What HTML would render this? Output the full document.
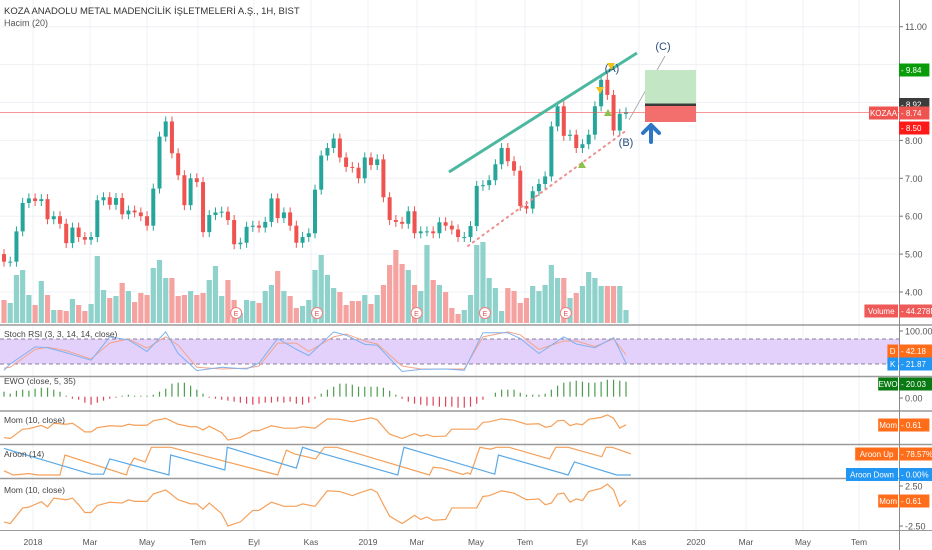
<!DOCTYPE html>
<html><head><meta charset="utf-8"><style>
html,body{margin:0;padding:0;background:#fff;}
svg{display:block;font-family:"Liberation Sans","DejaVu Sans",sans-serif;}
</style></head><body>
<svg id="chart" width="932" height="550" viewBox="0 0 932 550" xmlns="http://www.w3.org/2000/svg">
<rect x="0" y="0" width="932" height="550" fill="#ffffff"/>
<g id="grid"></g>
<g id="panes"></g>
<g id="vol"></g>
<g id="candles"></g>
<g id="draw"></g>
<g id="ind"></g>
<g id="axis"></g>
<text x="4" y="14" font-size="9.5" fill="#333">KOZA ANADOLU METAL MADENCİLİK İŞLETMELERİ A.Ş., 1H, BIST</text>
<text x="4" y="26" font-size="9" fill="#555">Hacim (20)</text>
</svg>
<script>
const closes=[4.8,4.8,5.6,6.35,6.47,6.4,6.45,5.92,6.0,5.8,5.29,5.7,5.45,5.38,5.45,6.42,6.5,6.3,6.48,6.05,6.15,6.1,6.0,5.75,6.73,8.1,8.5,7.66,7.08,6.29,7.0,6.9,5.58,6.03,6.1,6.12,5.9,5.26,5.3,5.72,5.75,5.7,5.85,6.47,5.95,6.1,5.75,5.3,5.45,5.55,6.7,7.6,7.8,8.05,7.55,7.3,7.28,7.0,7.55,7.35,7.5,6.5,5.9,5.85,5.8,6.13,5.55,5.6,5.6,5.55,5.84,5.75,5.65,5.45,5.45,5.74,6.8,6.82,6.95,7.37,7.8,7.45,7.2,6.27,6.2,6.66,6.85,7.05,8.37,8.9,8.12,8.15,7.8,7.9,8.15,8.9,9.6,9.2,8.26,8.7,8.74];
const firstOpen=5.0;
const volumes=[23,20,48,53,28,18,42,28,13,13,12,24,18,12,19,67,33,25,27,40,32,21,30,28,55,63,45,45,27,28,32,28,30,43,57,27,43,23,10,23,22,20,32,38,52,32,27,15,17,23,53,68,48,35,31,18,22,22,28,19,28,38,58,73,59,53,38,32,78,43,38,31,15,9,13,28,78,81,45,35,12,35,32,20,25,37,32,38,58,45,45,25,30,37,51,45,37,37,37,37,13];
const ewo=[5,3,6,7,6,8,9,9,7,5,1,-2,-3,-6,-8,-6,-4,-2,-1,1,2,1,1,1,2,5,8,13,14,14,11,7,3,-1,-2,-3,-4,-5,-6,-7,-8,-7,-6,-6,-5,-6,-5,-7,-8,-6,-2,3,7,10,13,13,12,10,10,10,10,9,6,2,-2,-5,-7,-8,-9,-9,-10,-10,-10,-11,-11,-10,-7,-3,0,4,7,7,7,4,2,2,2,3,7,11,14,15,16,15,14,14,15,17,17,16,15];
const stochIdx=[0,1,5,7,10,14,17,20,23,26,28,31,35,39,41,44,47,49,53,55,58,60,64,67,71,74,77,81,83,86,90,92,95,98,100];
const stochK=[5,20,61,59,47,29,85,78,50,97,45,4,12,8,22,81,55,40,97,89,67,65,2,7,8,5,95,95,81,45,85,68,59,83,22];
const stochD=[10,12,55,60,52,32,70,80,58,85,65,12,8,10,15,70,70,50,85,92,75,68,15,8,8,8,85,97,90,55,75,75,62,80,42];
const momIdx=[0,1,3,4,6,7,8,10,11,12,13,14,15,17,19,20,21,23,24,26,28,30,31,32,33,35,36,38,40,41,43,45,47,48,50,52,54,56,57,59,60,61,62,64,66,67,68,69,71,72,73,76,77,78,80,82,84,86,87,88,89,90,91,92,93,94,96,97,98,99,100];
const momVals=[-2.0,-2.2,-0.3,-0.2,0.46,-0.15,0.9,0.7,0.9,0.1,-0.85,-0.85,0,0.4,0.3,0.7,0.5,0.5,1.4,1.9,0.7,0.2,0.2,-0.45,0.3,-1.0,-2.5,-2.0,-0.6,-0.6,0.4,-0.1,-0.1,0.2,-0.1,1.8,1.7,1.2,1.5,2.0,1.6,0.1,-1.3,-2.2,-1.2,-1.7,-1.4,-1.8,-1.7,-0.3,-0.3,-0.3,1.1,1.2,1.8,1.5,0.7,0.8,0.1,0.3,1.4,1.5,0.4,0.8,0.6,1.7,2.1,2.6,1.9,-0.1,0.61];
const aroonUpIdx=[0,1.5,4,5.5,9,9.8,19.7,20,20.9,22.7,23.7,26.8,44,45.4,46.7,50.1,51.5,53.5,68.4,69,70.4,73.8,74.5,75,76.5,78.2,79.2,81.2,87.7,88.7,90.7,96.1,96.8,97.8,100.8];
const aroonUp=[15,0,5,0,0,72,0,25,61,47,100,100,0,90,76,58,100,100,0,28,25,2,8,3,100,93,100,100,58,100,100,66,100,100,76];
const aroonDnIdx=[0,14,16,17,26.5,26.8,35.5,35.9,47,48,50.8,63.3,64.3,78.9,79.5,90.7,91.7,98.5,100.8];
const aroonDn=[96,3,3,58,0,72,18,100,25,100,80,0,100,3,72,0,47,0,0];
const priceTicks=[11,8,7,6,5,4];
const dateLabels=["2018","Mar","May","Tem","Eyl","Kas","2019","Mar","May","Tem","Eyl","Kas","2020","Mar","May","Tem"];
const dateX=[33,90,147,198,254,311,368,417,476,525,582,639,696,746,803,859];
const earnIdx=[37,50,66,77,90];

const NS="http://www.w3.org/2000/svg";
function mk(tag,attrs,parent,text){const e=document.createElementNS(NS,tag);for(const k in attrs)e.setAttribute(k,attrs[k]);if(text!==undefined)e.textContent=text;parent.appendChild(e);return e;}
const xS=i=>4+6.22*i;
const yP=p=>26.7+(11-p)*37.9;
const yV=v=>323-v;
const yEwo=v=>396.7-v;
const yStoch=v=>372.3-v*0.4167;
const yMom1=v=>427.7-v*4.92;
const yMom2=v=>505.5-v*8.2;
const yAroon=v=>475-v*0.277;
const G=document.getElementById('grid'),P=document.getElementById('panes'),V=document.getElementById('vol'),C=document.getElementById('candles'),D=document.getElementById('draw'),I=document.getElementById('ind'),A=document.getElementById('axis');

dateX.forEach(x=>{const l=mk('line',{x1:x,y1:0,x2:x,y2:530,stroke:'#eef0f5','stroke-width':1},G);

});
[11,10,9,8,7,6,5,4].forEach(p=>{const l=mk('line',{x1:0,y1:yP(p),x2:899,y2:yP(p),stroke:'#eef0f5','stroke-width':1},G);

});
[325,376.5,411,444.5,478.5].forEach(y=>{const l=mk('line',{x1:0,y1:y,x2:932,y2:y,stroke:'#9a9a9a','stroke-width':1.5},P);

});
mk('line',{x1:0,y1:530.5,x2:932,y2:530.5,stroke:'#9a9a9a','stroke-width':1},P);
mk('line',{x1:899.5,y1:0,x2:899.5,y2:550,stroke:'#8a8a8a','stroke-width':1},P);
const band=mk('rect',{x:0,y:yStoch(80),width:899,height:yStoch(20)-yStoch(80),fill:'#e3d1fb'},P);


[80,20].forEach(v=>mk('line',{x1:0,y1:yStoch(v),x2:899,y2:yStoch(v),stroke:'#8a7f99','stroke-dasharray':'4,3','stroke-width':1},P));

const pl=mk('line',{x1:0,y1:yP(8.74),x2:899,y2:yP(8.74),stroke:'#ef5350','stroke-width':0.8,opacity:0.8},D);



closes.forEach((c,i)=>{
 const o=i===0?firstOpen:closes[i-1];const up=c>=o;const x=xS(i);
 const vb=mk('rect',{x:x-2.6,y:yV(volumes[i]),width:5.2,height:volumes[i],fill:up?'#8fd2cb':'#f5a3a1'},V);
 
 
 const col=up?'#26a69a':'#ef5350';
 const hi=Math.max(o,c),lo=Math.min(o,c);
 const w=mk('line',{x1:x,y1:yP(hi)-5,x2:x,y2:yP(lo)+5,stroke:col,'stroke-width':1},C);
 
 
 const b=mk('rect',{x:x-2,y:yP(hi),width:4,height:Math.max(1,yP(lo)-yP(hi)),fill:col},C);
 
 
});
earnIdx.forEach(i=>{const g=mk('g',{},V);


mk('circle',{cx:xS(i)+2,cy:313,r:5.5,fill:'#fff',stroke:'#f08080','stroke-width':1},g);
mk('text',{x:xS(i)+2,y:316,'font-size':7,fill:'#e05050','text-anchor':'middle'},g,'E');});

const tl=mk('line',{x1:449,y1:172,x2:637,y2:53,stroke:'#4cb89f','stroke-width':3},D);


const dl=mk('line',{x1:468,y1:246,x2:627,y2:130,stroke:'#ef8f8f','stroke-width':2,'stroke-dasharray':'1.5,4.5','stroke-linecap':'round'},D);


const wl=mk('line',{x1:629,y1:120,x2:665,y2:56,stroke:'#a0a0a0','stroke-width':0.8},D);


const gb=mk('rect',{x:645,y:70,width:51,height:34,fill:'#c3e6c5'},D);


mk('rect',{x:645,y:103.5,width:51,height:2.5,fill:'#3a3a3a'},D);
const rb=mk('rect',{x:645,y:106,width:51,height:16,fill:'#f26f6d'},D);


const ar=mk('path',{d:'M651 125 L643 133 M651 125 L659 133 M651 125 L651 142',stroke:'#2f77c4','stroke-width':4,fill:'none','stroke-linecap':'round'},D);


[['(A)',612,72],['(B)',626,146],['(C)',663,50]].forEach(t=>{const e=mk('text',{x:t[1],y:t[2],'font-size':11,fill:'#2a4d7a','text-anchor':'middle'},D,t[0]);

});
const tri=(x,y,dn,c)=>{const e=mk('path',{d:dn?`M${x-4} ${y-3} L${x+4} ${y-3} L${x} ${y+4}Z`:`M${x-4} ${y+3} L${x+4} ${y+3} L${x} ${y-4}Z`,fill:c},D);

};
tri(600,90,true,'#f2c21c');tri(608,113,false,'#8bc34a');tri(582,165,false,'#8bc34a');tri(611,66,true,'#f2c21c');

const poly=(xs,ys,col,name,w)=>{const p=mk('polyline',{points:xs.map((x,k)=>x+','+ys[k]).join(' '),fill:'none',stroke:col,'stroke-width':w||1},I);

};
poly(stochIdx.map(xS),stochD.map(yStoch),'#f4a48a','stoch-d-line');
poly(stochIdx.map(xS),stochK.map(yStoch),'#7fb1ee','stoch-k-line');
ewo.forEach((v,i)=>{const l=mk('line',{x1:xS(i),y1:yEwo(0),x2:xS(i),y2:yEwo(v),stroke:v>=0?'#4d9c50':'#e0435a','stroke-width':1.2},I);

});
poly(momIdx.map(xS),momVals.map(yMom1),'#f5a05a','momentum-line-1',1.2);
poly(aroonUpIdx.map(xS),aroonUp.map(yAroon),'#f5a05a','aroon-up-line',1.2);
poly(aroonDnIdx.map(xS),aroonDn.map(yAroon),'#5aa9e6','aroon-down-line',1.2);
poly(momIdx.map(xS),momVals.map(yMom2),'#f5a05a','momentum-line-2',1.2);

[['Stoch RSI (3, 3, 14, 14, close)',337],['EWO (close, 5, 35)',384],['Mom (10, close)',423],['Aroon (14)',457],['Mom (10, close)',493]].forEach(t=>{
 const e=mk('text',{x:4,y:t[1],'font-size':8.5,fill:'#444'},A,t[0]);
 
 });

priceTicks.forEach(p=>{mk('line',{x1:899,y1:yP(p),x2:903,y2:yP(p),stroke:'#777'},A);
const t=mk('text',{x:905,y:yP(p)+3.5,'font-size':9,fill:'#555'},A,p.toFixed(2));

});
[['100.00',331],['0.00',398],['2.50',486],['-2.50',526]].forEach(t=>{mk('line',{x1:899,y1:t[1],x2:903,y2:t[1],stroke:'#777'},A);
const e=mk('text',{x:905,y:t[1]+3.5,'font-size':9,fill:'#555'},A,t[0]);

});
dateLabels.forEach((d,k)=>{const t=mk('text',{x:dateX[k],y:545,'font-size':8.5,fill:'#555','text-anchor':'middle'},A,d);

});

const badge=(y,label,val,col,name)=>{const g=mk('g',{},A);
 
 
 if(label){const lw=label.length*4.6+6;const lx=898-lw;mk('rect',{x:lx,y:y-6.5,width:lw,height:13,fill:col},g);mk('text',{x:lx+lw/2,y:y+3,'font-size':8,fill:'#fff','text-anchor':'middle'},g,label);}
 const w=val.length*4.6+12;
 mk('rect',{x:899,y:y-6.5,width:w,height:13,fill:col},g);
 mk('text',{x:901,y:y+3,'font-size':8,fill:'#fff'},g,'- '+val);};
badge(70,null,'9.84','#089c08','target-price-badge');
badge(104.5,null,'8.92','#3c3c3c','entry-price-badge');
badge(113,'KOZAA','8.74','#ef5350','last-price-badge');
badge(128,null,'8.50','#ff1a1a','stop-price-badge');
badge(311,'Volume','44.278M','#ef5a58','volume-badge');
badge(351,'D','42.18','#ff6d1a','stoch-d-badge');
badge(364,'K','21.87','#2196f3','stoch-k-badge');
badge(384,'EWO','20.03','#0a7a12','ewo-badge');
badge(425,'Mom','0.61','#ff6d1a','mom-badge-1');
badge(454,'Aroon Up','78.57%','#ff6d1a','aroon-up-badge');
badge(474.5,'Aroon Down','0.00%','#2196f3','aroon-down-badge');
badge(501,'Mom','0.61','#ff6d1a','mom-badge-2');
</script>
</body></html>
